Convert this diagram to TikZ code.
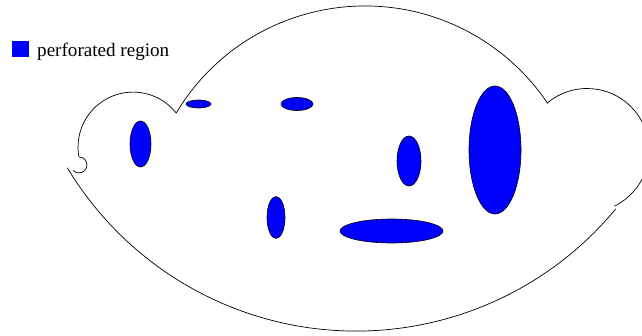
\documentclass[tikz,border=0pt]{standalone}
\usepackage{fontspec}
\setmainfont{Liberation Serif}
\begin{document}
\begin{tikzpicture}[x=1pt,y=1pt,line cap=round,line join=round,
  outline/.style={line width=0.7pt},
  hole/.style={fill=blue,draw=black,line width=0.6pt}]
  \useasboundingbox (0,0) rectangle (642,335);
  \clip (0,0) rectangle (642,335);

  % Legend.
  \fill[blue] (12,278) rectangle (29,294);
  \node[anchor=base west,inner sep=0pt,font=\fontsize{19.1}{22}\selectfont] (legtext) at (37,278.3) {perforated region};

  % Boundary of the domain.
  \coordinate (cuspL) at (176.2,222);
  \coordinate (cuspR) at (547.5,232.2);
  \coordinate (hookend) at (67.4,167.1);
  \draw[outline] (cuspL) arc[start angle=149.1,end angle=33.9,radius=220];
  \draw[outline] (cuspL) arc[start angle=38.3,end angle=190.3,radius=55]
    arc[start angle=90,end angle=-135,radius=8];
  \draw[outline] (hookend) arc[start angle=211.05,end angle=320.4,radius=337];
  \draw[outline] (cuspR) arc[start angle=129.7,end angle=-63.8,radius=62];

  % Perforations.
  \filldraw[hole] (140.5,191) ellipse (10.5 and 23);
  \filldraw[hole] (198.5,231) ellipse (12.5 and 4);
  \filldraw[hole] (297,231) ellipse (16 and 6.5);
  \filldraw[hole] (409,174) ellipse (12 and 25);
  \filldraw[hole] (495,185) ellipse (26 and 64);
  \filldraw[hole] (276,117.5) ellipse (9 and 21);
  \filldraw[hole] (391.5,104) ellipse (51.5 and 12);
\end{tikzpicture}
\end{document}
